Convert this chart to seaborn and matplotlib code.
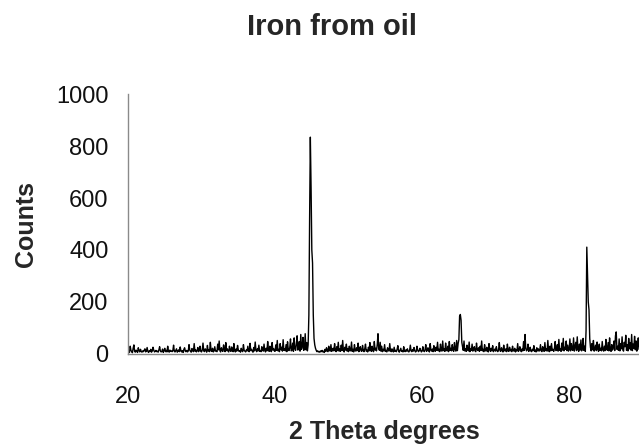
import numpy as np
import pandas as pd
import matplotlib
matplotlib.use("Agg")
import matplotlib.pyplot as plt
import seaborn as sns

# %% DATA - XRD scan, step 0.1 deg starting at 20.0
start_angle = 20.0
step = 0.1
counts = [
    8, 12, 6, 30, 14, 9, 5, 22, 35, 10, 7, 15, 11, 6, 24, 13, 8, 18, 10, 7,
    12, 9, 14, 20, 8, 11, 25, 10, 6, 13, 9, 18, 7, 12, 26, 15, 8, 10, 14, 9,
    11, 7, 16, 28, 12, 8, 10, 19, 6, 13, 22, 9, 14, 8, 30, 11, 7, 15, 10, 12,
    9, 13, 34, 10, 8, 14, 20, 7, 11, 16, 9, 27, 12, 8, 13, 6, 18, 24, 10, 9,
    14, 8, 12, 36, 15, 10, 7, 21, 13, 9, 40, 11, 16, 8, 12, 25, 9, 14, 30, 10,
    8, 15, 42, 12, 9, 20, 13, 7, 33, 11, 16, 9, 45, 14, 10, 22, 8, 12, 28, 11,
    13, 9, 38, 16, 50, 12, 8, 24, 14, 10, 35, 18, 9, 44, 13, 20, 11, 8, 30, 15,
    10, 27, 12, 9, 40, 14, 8, 19, 11, 33, 16, 10, 13, 7, 22, 12, 9, 36, 14, 11,
    8, 16, 12, 30, 10, 9, 41, 13, 18, 11, 7, 25, 12, 46, 15, 9, 20, 12, 34, 10,
    13, 9, 28, 16, 11, 38, 14, 8, 22, 12, 48, 17, 10, 30, 13, 9, 44, 15, 21, 12,
    10, 35, 14, 52, 12, 18, 9, 40, 16, 26, 11, 55, 14, 20, 12, 36, 9, 47, 18, 13,
    24, 58, 12, 16, 42, 10, 62, 20, 14, 38, 70, 15, 22, 48, 11, 75, 18, 30, 64, 14,
    20, 78, 16, 44, 12, 35, 150, 520, 834, 640, 400, 350, 150, 60, 35, 22, 14, 9, 12, 8,
    10, 7, 12, 9, 14, 8, 11, 6, 18, 10, 24, 12, 9, 30, 14, 11, 36, 10, 15, 22,
    12, 40, 16, 9, 28, 13, 45, 11, 19, 10, 34, 14, 52, 12, 8, 26, 15, 38, 11, 20,
    9, 30, 14, 12, 46, 10, 18, 8, 36, 15, 11, 24, 13, 42, 9, 16, 28, 12, 10, 33,
    14, 9, 20, 38, 11, 15, 8, 26, 12, 44, 16, 10, 30, 13, 9, 48, 15, 22, 12, 36,
    78, 20, 14, 45, 11, 30, 9, 18, 12, 36, 10, 14, 8, 24, 16, 11, 40, 13, 9, 20,
    12, 8, 26, 10, 14, 9, 18, 32, 11, 7, 15, 22, 10, 13, 8, 28, 12, 9, 16, 11,
    20, 10, 8, 14, 34, 12, 9, 17, 11, 25, 13, 8, 10, 30, 15, 9, 12, 22, 14, 8,
    11, 28, 13, 9, 16, 36, 10, 14, 24, 12, 8, 40, 15, 11, 19, 9, 32, 13, 10, 26,
    14, 45, 12, 18, 9, 38, 15, 11, 50, 13, 20, 10, 42, 16, 12, 30, 9, 48, 14, 22,
    12, 36, 15, 10, 44, 18, 11, 52, 13, 40, 55, 145, 152, 130, 45, 28, 14, 50, 12, 20,
    10, 34, 16, 12, 46, 9, 20, 14, 38, 11, 15, 28, 12, 9, 42, 16, 13, 24, 10, 30,
    14, 50, 12, 18, 9, 36, 15, 11, 26, 13, 8, 40, 16, 10, 22, 12, 32, 9, 14, 19,
    11, 28, 13, 9, 16, 44, 12, 10, 24, 14, 8, 34, 15, 11, 20, 9, 38, 13, 10, 26,
    12, 18, 9, 30, 14, 11, 22, 8, 16, 12, 40, 10, 15, 28, 13, 9, 20, 12, 48, 14,
    75, 22, 12, 16, 38, 10, 14, 26, 11, 9, 18, 13, 32, 10, 15, 8, 24, 12, 20, 11,
    14, 36, 12, 9, 28, 16, 10, 44, 13, 20, 11, 52, 15, 9, 30, 12, 40, 14, 18, 10,
    22, 48, 13, 16, 36, 11, 56, 14, 20, 10, 42, 15, 60, 12, 26, 18, 50, 13, 34, 11,
    16, 58, 12, 40, 20, 14, 62, 11, 28, 45, 13, 66, 18, 10, 38, 15, 54, 12, 24, 60,
    14, 30, 10, 90, 411, 310, 200, 170, 60, 25, 12, 40, 16, 52, 11, 20, 34, 13, 46, 18,
    10, 38, 14, 22, 12, 48, 16, 11, 30, 13, 56, 20, 14, 44, 12, 62, 18, 10, 36, 15,
    24, 50, 13, 70, 85, 18, 30, 14, 58, 12, 40, 20, 66, 16, 11, 45, 28, 72, 14, 36,
    12, 60, 20, 44, 15, 75, 13, 38, 22, 68, 16, 50, 11, 30, 62, 18,
]
x_ticks = [20, 40, 60, 80]
y_ticks = [0, 200, 400, 600, 800, 1000]

two_theta = start_angle + step * np.arange(len(counts))
df = pd.DataFrame({"two_theta": two_theta, "counts": counts})

# %% PLOT
sns.set_style("white")
plt.rcParams["font.family"] = ["Liberation Sans", "DejaVu Sans"]

fig = plt.figure(figsize=(6.39, 4.44), dpi=100)
# axis box: x from px 128 to right edge, y from px 94 (1000) to 354 (0)
ax = fig.add_axes([128 / 639, 1 - 354 / 444, 1 - 128 / 639, 260 / 444])

sns.lineplot(data=df, x="two_theta", y="counts", color="black", linewidth=1.0, ax=ax)

ax.set_xlim(20, 89.5)
ax.set_ylim(0, 1000)
ax.set_xticks(x_ticks)
ax.set_yticks(y_ticks)
for side in ["top", "right"]:
    ax.spines[side].set_visible(False)
for side in ["left", "bottom"]:
    ax.spines[side].set_color("#8a8a8a")
    ax.spines[side].set_linewidth(1.0)
ax.tick_params(axis="both", direction="out", length=6, width=1, color="#8a8a8a",
               labelsize=17, labelcolor="#111111")
ax.tick_params(axis="x", pad=17)
ax.tick_params(axis="y", pad=8)

ax.set_xlabel("2 Theta degrees", fontsize=18, fontweight="bold")
ax.xaxis.set_label_coords((384 - 128) / 511, -(432 - 354) / 260)
ax.xaxis.label.set_va("center")
ax.set_ylabel("Counts", fontsize=18, fontweight="bold")
ax.yaxis.set_label_coords(-(128 - 26) / 511, (354 - 224) / 260)
ax.yaxis.label.set_va("center")

fig.text(332 / 639, 1 - 27 / 444, "Iron from oil", ha="center", va="center",
         fontsize=21, fontweight="bold")

fig.savefig("out.png", dpi=100)
